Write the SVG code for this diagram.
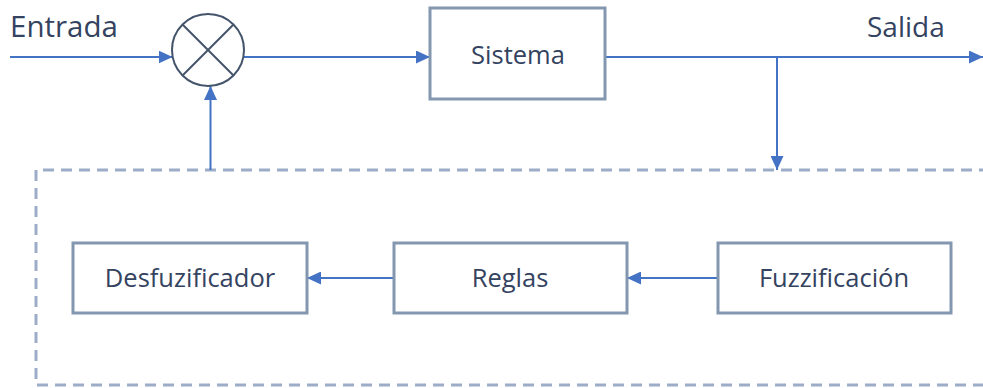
<svg xmlns="http://www.w3.org/2000/svg" width="983" height="388" viewBox="0 0 983 388">
  <defs>
    <marker id="arrow" viewBox="0 0 14 13" refX="14" refY="6.5" markerWidth="14" markerHeight="13" markerUnits="userSpaceOnUse" orient="auto">
      <path d="M0,0 L14,6.5 L0,13 Z" fill="#4472C4"/>
    </marker>
    <style>
      .box { fill: #ffffff; stroke: #8497B0; stroke-width: 3; }
      .lbl { font-family: "Open Sans", "Noto Sans", "Liberation Sans", sans-serif; fill: #34435F; }
      .boxlbl { font-size: 25.5px; text-anchor: middle; }
      .io { font-size: 28px; }
      .wire { fill: none; stroke: #4472C4; stroke-width: 2; }
      .frame { fill: none; stroke: #9DADC9; stroke-width: 3; stroke-dasharray: 11 7; }
    </style>
  </defs>

  <rect width="983" height="388" fill="#ffffff"/>

  <!-- controller frame (dashed, open to the right) -->
  <g id="controller">
    <path class="frame" d="M990,170 H36 V385 H990"/>
  </g>

  <!-- connectors -->
  <g id="connectors">
    <line class="wire" x1="10" y1="57" x2="172.5" y2="57" marker-end="url(#arrow)"/>
    <line class="wire" x1="243.5" y1="57" x2="430" y2="57" marker-end="url(#arrow)"/>
    <line class="wire" x1="605" y1="57" x2="983" y2="57" marker-end="url(#arrow)"/>
    <line class="wire" x1="777" y1="57" x2="777" y2="170" marker-end="url(#arrow)"/>
    <line class="wire" x1="210.5" y1="170" x2="210.5" y2="86" marker-end="url(#arrow)"/>
    <line class="wire" x1="718" y1="278" x2="627" y2="278" marker-end="url(#arrow)"/>
    <line class="wire" x1="394" y1="278" x2="307" y2="278" marker-end="url(#arrow)"/>
  </g>

  <!-- signal labels -->
  <g id="labels">
    <text class="lbl io" x="10" y="37" style="font-size:29.5px">Entrada</text>
    <text class="lbl io" x="867" y="37">Salida</text>
  </g>

  <!-- summing junction -->
  <g id="junction">
    <circle cx="208" cy="50" r="36" fill="#ffffff" stroke="#44546A" stroke-width="2"/>
    <line x1="182.5" y1="24.5" x2="233.5" y2="75.5" stroke="#44546A" stroke-width="2"/>
    <line x1="233.5" y1="24.5" x2="182.5" y2="75.5" stroke="#44546A" stroke-width="2"/>
  </g>

  <g id="sistema">
    <rect class="box" x="430" y="8" width="175" height="91"/>
    <text class="lbl boxlbl" x="518" y="64">Sistema</text>
  </g>

  <g id="desfuzificador">
    <rect class="box" x="73" y="243" width="234" height="70"/>
    <text class="lbl boxlbl" x="190" y="287">Desfuzificador</text>
  </g>

  <g id="reglas">
    <rect class="box" x="394" y="243" width="233" height="70"/>
    <text class="lbl boxlbl" x="510" y="287">Reglas</text>
  </g>

  <g id="fuzzificacion">
    <rect class="box" x="718" y="243" width="233" height="70"/>
    <text class="lbl boxlbl" x="834" y="287">Fuzzificación</text>
  </g>
</svg>
